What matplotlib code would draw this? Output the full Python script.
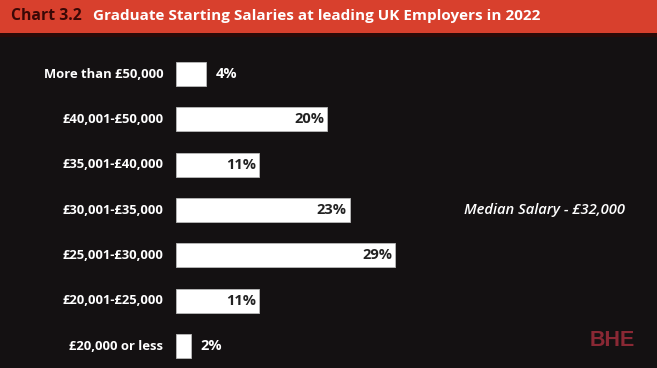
import matplotlib.pyplot as plt
from matplotlib.patches import Rectangle

# ------------------ DATOS ------------------
categorias = ["More than £50,000", "£40,001-£50,000", "£35,001-£40,000",
              "£30,001-£35,000", "£25,001-£30,000", "£20,001-£25,000",
              "£20,000 or less"]
porcentajes = [4, 20, 11, 23, 29, 11, 2]
etiquetas = [f"{p}%" for p in porcentajes]

titulo_num = "Chart 3.2"
titulo = "Graduate Starting Salaries at leading UK Employers in 2022"
mediana = "Median Salary - £32,000"

fondo = "#141112"
rojo = "#d8402d"

plt.rcParams['font.family'] = ['Open Sans', 'DejaVu Sans']

fig = plt.figure(figsize=(6.57, 3.68), dpi=100, facecolor=fondo)

# cabecera roja
fig.patches.append(Rectangle((0, 1 - 33 / 368), 1, 33 / 368, transform=fig.transFigure,
                             facecolor=rojo, edgecolor="none"))
fig.patches.append(Rectangle((0, 1 - 37 / 368), 1, 4 / 368, transform=fig.transFigure,
                             facecolor="#2a0a08", edgecolor="none"))
fig.text(11 / 657, 1 - 16 / 368, titulo_num, color="#3a0806", fontsize=11.3,
         fontweight="bold", va="center", ha="left")
fig.text(93 / 657, 1 - 16 / 368, titulo, color="white", fontsize=11.0,
         fontweight="bold", va="center", ha="left")

# ------------------ BARRAS ------------------
ax = fig.add_axes([176 / 657, 0, 481 / 657, 328 / 368])
ax.set_facecolor(fondo)
y = list(range(len(categorias)))
ax.barh(y, porcentajes, height=0.53, color="white", edgecolor="#bbbbbb", linewidth=0.6)
ax.set_xlim(0, 481 / 7.55)
ax.set_ylim(6.485, -0.75)
ax.axis("off")

for yi, p, et, cat in zip(y, porcentajes, etiquetas, categorias):
    ax.text(-1.7, yi, cat, color="white", fontsize=9.4, fontweight="bold",
            ha="right", va="center")
    if p < 5:
        ax.text(p + 1.2, yi, et, color="white", fontsize=10.5, fontweight="bold",
                ha="left", va="center")
    else:
        ax.text(p - 0.4, yi, et, color="#222222", fontsize=10.5, fontweight="bold",
                ha="right", va="center")

ax.text(38.1, 3, mediana, color="white", fontsize=10.6, style="italic",
        fontweight="semibold", ha="left", va="center")

fig.text(590 / 657, 1 - 340 / 368, "BHE", color="#8a2834", fontsize=15.5,
         fontweight="bold", ha="left", va="center", family="Liberation Sans")

fig.savefig("out.png", dpi=100, facecolor=fondo)
